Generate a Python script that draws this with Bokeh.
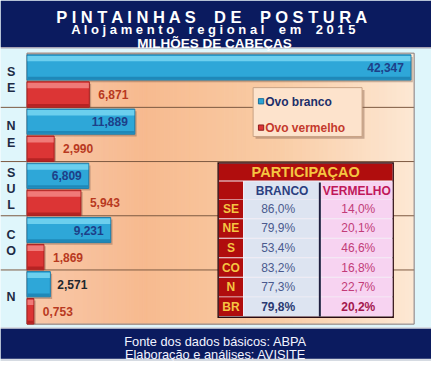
from bokeh.plotting import figure
from bokeh.models import Range1d, ColumnDataSource
from bokeh.transform import dodge
from bokeh.core.properties import value
from bokeh.embed import file_html
from bokeh.resources import INLINE

# ---------------- data ----------------
regions = ["SE", "NE", "SUL", "CO", "N"]
ovo_branco = [42.347, 11.889, 6.809, 9.231, 2.571]
ovo_vermelho = [6.871, 2.990, 5.943, 1.869, 0.753]
series_names = ["Ovo branco", "Ovo vermelho"]

table_title = "PARTICIPAÇAO"
table_cols = ["BRANCO", "VERMELHO"]
table_regions = ["SE", "NE", "S", "CO", "N", "BR"]
part_branco = [86.0, 79.9, 53.4, 83.2, 77.3, 79.8]
part_vermelho = [14.0, 20.1, 46.6, 16.8, 22.7, 20.2]

title1 = "PINTAINHAS DE POSTURA"
title2 = "Alojamento regional em 2015"
title3 = "MILHÕES DE CABEÇAS"
footer1 = "Fonte dos dados básicos: ABPA"
footer2 = "Elaboração e análises: AVISITE"

# ---------------- style / layout (reference pixel frame 447 x 377) ----------------
W, H = 431, 361
REF_W, REF_H = 447, 377
PL, PR, PT, PB = 27.5, 429.0, 55.0, 338.0      # plot area in reference pixels
XMAX = 42.7
NC = len(regions)
PXU = (PR - PL) / XMAX                          # ref px per data unit (x)
PYU = (PB - PT) / NC                            # ref px per category (y)

FONT = "Liberation Sans"
F = value(FONT)
NAVY = "#0b1b5f"
CYAN = "#dff6fb"
DARKRED = "#b00d0d"
GOLD = "#f5c542"
NB = "\u00a0"


def spaced(s, extra):
    return (" " + NB * extra + " ").join(" ".join(w) for w in s.split(" "))


def fmt3(v):
    return f"{v:.3f}".replace(".", ",")


def fmtp(v):
    return f"{v:.1f}%".replace(".", ",")


p = figure(width=W, height=H,
           x_range=Range1d(-PL / PXU, XMAX + (REF_W - PR) / PXU),
           y_range=Range1d((REF_H - PT) / PYU, -PT / PYU),
           output_backend="svg", toolbar_location=None, min_border=0,
           x_axis_location=None, y_axis_location=None)
p.extra_x_ranges = {"rx": Range1d(0, REF_W)}
p.extra_y_ranges = {"ry": Range1d(REF_H, 0)}
p.grid.visible = False
p.outline_line_color = None
p.background_fill_color = CYAN
p.border_fill_color = CYAN
R = dict(x_range_name="rx", y_range_name="ry")

# ---------------- header ----------------
p.quad(left=0, right=REF_W, top=0, bottom=48.6, fill_color=NAVY, line_color=None, **R)
p.quad(left=0, right=REF_W, top=48.6, bottom=50.2, fill_color="#a7a3b4", line_color=None, **R)
p.text(x=[221], y=[16.8], text=[spaced(title1, 2)], text_color="white", text_font=F,
       text_font_style="bold", text_font_size="16.5px", text_align="center", text_baseline="alphabetic", **R)
p.text(x=[221], y=[30.2], text=[spaced(title2, 2)], text_color="white", text_font=F,
       text_font_style="bold", text_font_size="13px", text_align="center", text_baseline="alphabetic", **R)
p.text(x=[222], y=[45.4], text=[title3], text_color="white", text_font=F,
       text_font_style="bold", text_font_size="13.5px", text_align="center", text_baseline="alphabetic", **R)

# ---------------- plot area background gradient ----------------
stops = [(0.0, (248, 200, 170)), (0.3, (247, 186, 143)), (0.65, (249, 204, 165)), (1.0, (253, 232, 212))]


def grad(t):
    for (a, ca), (b, cb) in zip(stops[:-1], stops[1:]):
        if a <= t <= b:
            u = (t - a) / (b - a)
            c = [round(ca[k] + (cb[k] - ca[k]) * u) for k in range(3)]
            return "#%02x%02x%02x" % tuple(c)
    return "#%02x%02x%02x" % stops[-1][1]


N = 90
gl = [PL + (PR - PL) * i / N for i in range(N)]
gr = [PL + (PR - PL) * (i + 1) / N for i in range(N)]
gc = [grad((i + 0.5) / N) for i in range(N)]
p.quad(left=gl, right=gr, top=PT, bottom=PB, fill_color=gc, line_color=gc, line_width=1, **R)

# category separators (also through the label column)
bounds = list(range(1, NC))
p.segment(x0=-PL / PXU, x1=XMAX, y0=bounds, y1=bounds, line_color="#7d5a42", line_width=1)
# plot area frame
p.quad(left=PL, right=PR, top=PT, bottom=PB, fill_color=None, line_color="#7f7f86", line_width=1, **R)

centers = [i + 0.5 for i in range(NC)]
src = ColumnDataSource(dict(
    pos=centers, region=["\n".join(r) for r in regions],
    branco=ovo_branco, vermelho=ovo_vermelho,
    blab=[fmt3(v) for v in ovo_branco], rlab=[fmt3(v) for v in ovo_vermelho],
    balign=["right" if v > 5 else "left" for v in ovo_branco],
    boff=[-7 if v > 5 else 7 for v in ovo_branco],
    bcol=["#1d3f88" if v > 5 else "#22262e" for v in ovo_branco],
))

BY, BH = -0.237, 0.465
RY, RH = 0.263, 0.47

# shadows
p.hbar(y=dodge("pos", BY + 0.04), left=0, right=dodge("branco", 0.2), height=BH,
       fill_color="#6b4a3c", fill_alpha=0.35, line_color=None, source=src)
p.hbar(y=dodge("pos", RY + 0.02), left=0, right=dodge("vermelho", 0.2), height=RH - 0.03,
       fill_color="#6b4a3c", fill_alpha=0.35, line_color=None, source=src)
# blue bars
p.hbar(y=dodge("pos", BY), left=0, right="branco", height=BH,
       fill_color="#2ea7d8", line_color="#1b7dab", line_width=1, source=src)
p.hbar(y=dodge("pos", BY - BH / 2 + 0.07), left=0.05, right=dodge("branco", -0.05),
       height=0.1, fill_color="#6ccfee", line_color=None, source=src)
p.hbar(y=dodge("pos", BY + BH / 2 - 0.035), left=0.05, right=dodge("branco", -0.05),
       height=0.05, fill_color="#1f88b8", line_color=None, source=src)
# red bars
p.hbar(y=dodge("pos", RY), left=0, right="vermelho", height=RH,
       fill_color="#dc3535", line_color="#a51f1f", line_width=1, source=src)
p.hbar(y=dodge("pos", RY - RH / 2 + 0.07), left=0.05, right=dodge("vermelho", -0.05),
       height=0.1, fill_color="#f07a78", line_color=None, source=src)
p.hbar(y=dodge("pos", RY + RH / 2 - 0.035), left=0.05, right=dodge("vermelho", -0.05),
       height=0.05, fill_color="#b52323", line_color=None, source=src)

# value labels
p.text(x="branco", y=dodge("pos", BY), text="blab", x_offset="boff",
       text_align="balign", text_color="bcol", text_baseline="middle", text_font=F,
       text_font_style="bold", text_font_size="12px", source=src)
p.text(x="vermelho", y=dodge("pos", RY), text="rlab", x_offset=9,
       text_align="left", text_color="#b8391f", text_baseline="middle", text_font=F,
       text_font_style="bold", text_font_size="12px", source=src)

# category labels (stacked letters in the left column)
p.text(x=(11 - PL) / PXU, y="pos", text="region", text_align="center", text_baseline="middle",
       text_color="#1d2b45", text_font=F, text_font_style="bold", text_font_size="12.5px",
       text_line_height=1.15, source=src)

# ---------------- legend ----------------
p.quad(left=264.5, right=377.5, top=93.5, bottom=144.5, fill_color="#8a6450", fill_alpha=0.45, line_color=None, **R)
p.quad(left=262, right=375, top=91, bottom=142, fill_color="#fde3cc", line_color="#c9a385", line_width=1, **R)
p.quad(left=267.5, right=273, top=102.5, bottom=108, fill_color="#2ba4d6", line_color="#1b6f99", **R)
p.quad(left=267.5, right=273, top=130, bottom=135.5, fill_color="#dc3535", line_color="#8f1f1f", **R)
p.text(x=[274.5], y=[105.5], text=[series_names[0]], text_color="#1c2f6a", text_font=F, text_font_style="bold",
       text_font_size="12px", text_baseline="middle", **R)
p.text(x=[274.5], y=[133], text=[series_names[1]], text_color="#c43a2c", text_font=F, text_font_style="bold",
       text_font_size="12px", text_baseline="middle", **R)

# ---------------- participation table ----------------
p.quad(left=225, right=408, top=169, bottom=331.5, fill_color="#2a0a10", line_color=None, **R)
p.quad(left=226.5, right=406.5, top=170.5, bottom=330, fill_color="#f3eef5", line_color=None, **R)
p.quad(left=226.5, right=406.5, top=170.5, bottom=188, fill_color=DARKRED, line_color=None, **R)
p.text(x=[316.5], y=[179.5], text=[table_title], text_color=GOLD, text_font=F, text_font_style="bold",
       text_font_size="14.5px", text_align="center", text_baseline="middle", **R)
p.quad(left=226.5, right=251.5, top=189, bottom=207.5, fill_color=DARKRED, line_color=None, **R)
p.quad(left=252.5, right=330, top=189, bottom=207.5, fill_color="#dde4f1", line_color=None, **R)
p.quad(left=332.5, right=406.5, top=189, bottom=207.5, fill_color="#f7d3f1", line_color=None, **R)
p.text(x=[292, 369.5], y=[198.5, 198.5], text=table_cols, text_color=["#2b3f80", "#c0185a"], text_font=F,
       text_font_style="bold", text_font_size="12px", text_align="center", text_baseline="middle", **R)
RH_T = 20.4
tops = [208 + i * RH_T for i in range(len(table_regions))]
bots = [t + RH_T - 1 for t in tops]
mids = [t + (RH_T - 1) / 2 for t in tops]
p.quad(left=226.5, right=251.5, top=tops, bottom=bots, fill_color=DARKRED, line_color=None, **R)
p.quad(left=252.5, right=330, top=tops, bottom=bots, fill_color="#dde4f1", line_color=None, **R)
p.quad(left=332.5, right=406.5, top=tops, bottom=bots, fill_color="#f7d3f1", line_color=None, **R)
p.segment(x0=331.2, x1=331.2, y0=190, y1=330, line_color="#1f1f40", line_width=2, **R)
last = len(table_regions) - 1
tsrc = ColumnDataSource(dict(
    y=mids, reg=table_regions,
    b=[fmtp(v) for v in part_branco], v=[fmtp(v) for v in part_vermelho],
    style=["bold" if i == last else "normal" for i in range(len(table_regions))],
    bc=["#2a3a72" if i == last else "#4a5a8e" for i in range(len(table_regions))],
    vc=["#a3184e" if i == last else "#c23c78" for i in range(len(table_regions))],
))
p.text(x=239, y="y", text="reg", text_color=GOLD, text_font=F, text_font_style="bold",
       text_font_size="12px", text_align="center", text_baseline="middle", source=tsrc, **R)
p.text(x=288, y="y", text="b", text_color="bc", text_font=F, text_font_style="style",
       text_font_size="12px", text_align="center", text_baseline="middle", source=tsrc, **R)
p.text(x=371, y="y", text="v", text_color="vc", text_font=F, text_font_style="style",
       text_font_size="12px", text_align="center", text_baseline="middle", source=tsrc, **R)

# ---------------- footer ----------------
p.quad(left=0, right=REF_W, top=341, bottom=REF_H, fill_color="#d6dbe2", line_color=None, **R)
p.quad(left=0, right=REF_W, top=342.8, bottom=374.2, fill_color=NAVY, line_color=None, **R)
p.text(x=[223], y=[356.2], text=[footer1], text_color="#f2f4ff", text_font=F,
       text_font_size="12.8px", text_align="center", text_baseline="alphabetic", **R)
p.text(x=[223], y=[369.6], text=[footer2], text_color="#f2f4ff", text_font=F,
       text_font_size="12.8px", text_align="center", text_baseline="alphabetic", **R)

open("out.html", "w").write(file_html(p, INLINE))
